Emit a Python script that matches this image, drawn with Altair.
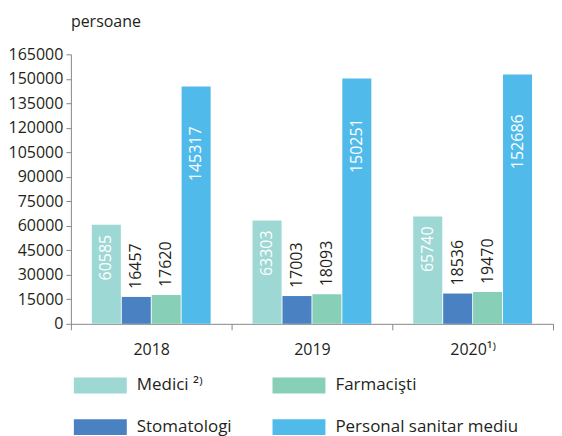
import altair as alt
import pandas as pd

years = ["2018", "2019", "2020¹⁾"]
categories = ["Medici ²⁾", "Stomatologi", "Farmacişti", "Personal sanitar mediu"]
medici = [60585, 63303, 65740]
stomatologi = [16457, 17003, 18536]
farmacisti = [17620, 18093, 19470]
personal = [145317, 150251, 152686]
y_ticks = [0, 15000, 30000, 45000, 60000, 75000, 90000, 105000, 120000, 135000, 150000, 165000]
bar_colors = ["#9ed8d5", "#4a81c2", "#88cfb7", "#50bbea"]

rows = []
for cat, vals in zip(categories, [medici, stomatologi, farmacisti, personal]):
    for yr, v in zip(years, vals):
        rows.append({"an": yr, "cat": cat, "val": v})
df = pd.DataFrame(rows)

FONT = "Open Sans"
DARK = "#231f20"

base = alt.Chart(df).encode(
    x=alt.X("an:N", sort=years, title=None,
            scale=alt.Scale(paddingInner=0, paddingOuter=0),
            axis=alt.Axis(labelAngle=0, tickBand="extent", tickSize=6,
                          labelPadding=12, labelFontSize=16, labelFont=FONT,
                          labelColor=DARK, domainColor="#888", tickColor="#888")),
    xOffset=alt.XOffset("cat:N", sort=categories,
                        scale=alt.Scale(paddingOuter=0.7, paddingInner=0.03)),
    y=alt.Y("val:Q", title=None,
            scale=alt.Scale(domain=[0, 165000], nice=False),
            axis=alt.Axis(values=y_ticks, format="d", tickSize=5, labelPadding=3,
                          labelFontSize=16, labelFont=FONT, labelColor=DARK,
                          domainColor="#888", tickColor="#888", grid=False)),
)

bars = base.mark_bar().encode(
    color=alt.Color("cat:N", title=None,
                    scale=alt.Scale(domain=categories, range=bar_colors),
                    legend=alt.Legend(orient="none", legendX=3, legendY=305,
                                      direction="vertical",
                                      columns=2, columnPadding=40, rowPadding=7,
                                      symbolType="M-1,-0.3H1V0.3H-1Z",
                                      symbolSize=2809, symbolStrokeWidth=0,
                                      symbolOpacity=1, labelOffset=10,
                                      labelFontSize=17, labelFont=FONT,
                                      labelColor=DARK, labelLimit=300))
)

inside_med = base.mark_text(angle=270, align="right", baseline="middle",
                            dx=-10, fontSize=16, font=FONT, color="white").encode(
    text=alt.Text("val:Q", format="d")
).transform_filter(alt.datum.cat == "Medici ²⁾")

inside_pers = base.mark_text(angle=270, align="right", baseline="middle",
                             dx=-40, fontSize=16, font=FONT, color="white").encode(
    text=alt.Text("val:Q", format="d")
).transform_filter(alt.datum.cat == "Personal sanitar mediu")

outside = base.mark_text(angle=270, align="left", baseline="middle",
                         dx=8, fontSize=16, font=FONT, color=DARK).encode(
    text=alt.Text("val:Q", format="d")
).transform_filter((alt.datum.cat == "Stomatologi") | (alt.datum.cat == "Farmacişti"))

chart = alt.layer(bars, inside_med, inside_pers, outside).properties(
    width=483, height=270,
    padding={"top": 6, "left": 0, "right": 0, "bottom": 0},
    title=alt.TitleParams("persoane", anchor="start", frame="group", fontSize=16,
                          font=FONT, fontWeight="normal", color=DARK, offset=16),
).configure_view(stroke=None)

chart.save("out.html", embed_options={"renderer": "svg", "actions": False})
